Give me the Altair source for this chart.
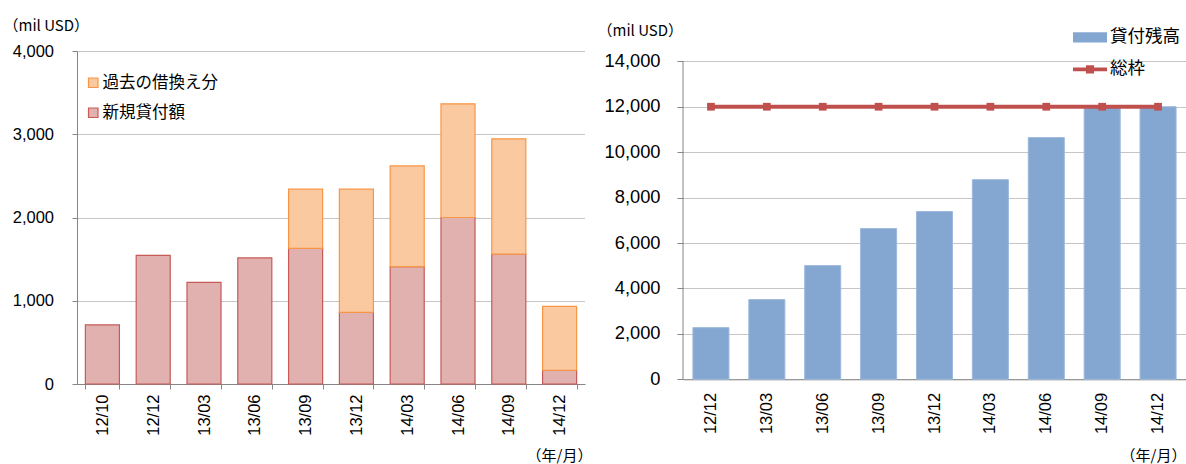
import altair as alt
import pandas as pd

# ---- left panel: quarterly lending (mil USD) ----
periods_left = ["12/10", "12/12", "13/03", "13/06", "13/09",
                "13/12", "14/03", "14/06", "14/09", "14/12"]
new_loans = [710, 1545, 1220, 1515, 1630, 860, 1410, 2000, 1560, 165]
refinanced = [0, 0, 0, 0, 710, 1480, 1210, 1365, 1385, 767]

# ---- right panel: outstanding balance vs. overall ceiling (mil USD) ----
periods_right = ["12/12", "13/03", "13/06", "13/09", "13/12",
                 "14/03", "14/06", "14/09", "14/12"]
outstanding = [2275, 3510, 5005, 6635, 7385, 8790, 10640, 12000, 12000]
ceiling = [12000, 12000, 12000, 12000, 12000, 12000, 12000, 12000, 12000]

S_NEW = "新規貸付額"
S_REFI = "過去の借換え分"
S_BAL = "貸付残高"
S_CAP = "総枠"

JP = "Noto Sans CJK JP"
NUM = "Liberation Sans"

PINK_FILL, PINK_LINE = "#E1B1B0", "#C65A57"
ORANGE_FILL, ORANGE_LINE = "#FAC9A0", "#F79646"
BLUE_FILL, BLUE_LINE = "#84A7D1", "#9DB9DC"
RED = "#C0504D"
AXIS_GREY = "#868686"

rows = []
for p, n, r in zip(periods_left, new_loans, refinanced):
    rows.append({"period": p, "series": S_NEW, "value": n, "rank": 0})
    rows.append({"period": p, "series": S_REFI, "value": r, "rank": 1})
left_df = pd.DataFrame(rows)

right_df = pd.DataFrame({
    "period": periods_right,
    "outstanding": outstanding,
    "ceiling": ceiling,
    "bal_series": [S_BAL] * len(periods_right),
    "cap_series": [S_CAP] * len(periods_right),
})

LW, LH = 508, 333          # left plot area
RW = 503                   # right plot width
R_AXIS_H = 318             # height spanned by the 0..14,000 axis
R_HEAD = 10.3              # free band above the right axis top
RH = R_AXIS_H + R_HEAD
R_TOP = 14000 * RH / R_AXIS_H

grid_axis = dict(grid=True, gridColor="#8A8A8A", gridDash=[1, 1], gridWidth=1)

left_legend = alt.Legend(
    title=None, orient="none", legendX=8, legendY=23.5,
    symbolType="square", symbolSize=90, symbolStrokeWidth=1.2,
    labelFont=JP, labelFontSize=16.5, labelColor="#000000",
    labelOffset=1, rowPadding=13,
)

left = (
    alt.Chart(left_df)
    .transform_filter("datum.value > 0")
    .mark_bar(strokeWidth=1.2)
    .encode(
        x=alt.X(
            "period:N", sort=periods_left,
            scale=alt.Scale(paddingInner=0.33, paddingOuter=0.165),
            axis=alt.Axis(
                title="（年/月）", titleFont=JP, titleFontSize=15,
                titleFontWeight="normal", titleColor="#000000",
                titleX=LW + 7, titleY=71, titleAlign="right",
                titleBaseline="middle", titleAngle=0,
                labelAngle=270, labelAlign="right", labelBaseline="middle",
                labelFont=NUM, labelFontSize=16.5, labelPadding=5,
                tickBand="extent", tickSize=5, grid=False,
            ),
        ),
        y=alt.Y(
            "value:Q", stack="zero",
            scale=alt.Scale(domain=[0, 4000], nice=False),
            axis=alt.Axis(
                values=[0, 1000, 2000, 3000, 4000], format=",d",
                title="（mil USD）", titleFont=JP, titleFontSize=15,
                titleFontWeight="normal", titleColor="#000000",
                titleAngle=0, titleAlign="left", titleBaseline="middle",
                titleX=-74, titleY=-26,
                labelFont=NUM, labelFontSize=16.5, labelPadding=18.5,
                tickSize=5, **grid_axis,
            ),
        ),
        fill=alt.Fill(
            "series:N",
            scale=alt.Scale(domain=[S_REFI, S_NEW], range=[ORANGE_FILL, PINK_FILL]),
            legend=left_legend,
        ),
        stroke=alt.Stroke(
            "series:N",
            scale=alt.Scale(domain=[S_REFI, S_NEW], range=[ORANGE_LINE, PINK_LINE]),
            legend=left_legend,
        ),
        order=alt.Order("rank:Q", sort="ascending"),
    )
    .properties(width=LW, height=LH)
)

# right panel: shared encodings
x_right = alt.X(
    "period:N", sort=periods_right,
    scale=alt.Scale(paddingInner=0.355, paddingOuter=0.1775),
    axis=alt.Axis(
        title="（年/月）", titleFont=JP, titleFontSize=15,
        titleFontWeight="normal", titleColor="#000000",
        titleX=RW, titleY=76, titleAlign="right",
        titleBaseline="middle", titleAngle=0,
        labelAngle=270, labelAlign="right", labelBaseline="middle",
        labelFont=NUM, labelFontSize=16.5, labelPadding=13,
        ticks=False, tickSize=0, grid=False,
    ),
)
y_axis_right = alt.Axis(
    values=[0, 2000, 4000, 6000, 8000, 10000, 12000, 14000], format=",d",
    title="（mil USD）", titleFont=JP, titleFontSize=15,
    titleFontWeight="normal", titleColor="#000000",
    titleAngle=0, titleAlign="left", titleBaseline="middle",
    titleX=-86, titleY=-30.5 + R_HEAD,
    labelFont=NUM, labelFontSize=18.3, labelPadding=17,
    tickSize=6, domain=False, **grid_axis,
)
y_scale_right = alt.Scale(domain=[0, R_TOP], nice=False)

RECT_PATH = "M-1,-0.3L1,-0.3L1,0.3L-1,0.3Z"
LINE_MARK_PATH = ("M-1,-0.11L1,-0.11L1,0.11L-1,0.11Z"
                  "M-0.24,-0.24L0.24,-0.24L0.24,0.24L-0.24,0.24Z")

# vertical axis line from 0 up to 14,000
axis_line = alt.Chart(pd.DataFrame({"lo": [0], "hi": [14000]})).mark_rule(
    color=AXIS_GREY, strokeWidth=1
).encode(
    x=alt.value(0),
    y=alt.Y("lo:Q", scale=y_scale_right, axis=y_axis_right),
    y2="hi:Q",
)

bars = alt.Chart(right_df).mark_bar(stroke=BLUE_LINE, strokeWidth=1).encode(
    x=x_right,
    y=alt.Y("outstanding:Q", scale=y_scale_right, axis=y_axis_right),
    fill=alt.Fill(
        "bal_series:N",
        scale=alt.Scale(domain=[S_BAL], range=[BLUE_FILL]),
        legend=alt.Legend(
            title=None, orient="none", legendX=390, legendY=-30.7,
            symbolType=RECT_PATH, symbolSize=1156, symbolStrokeWidth=0,
            labelFont=JP, labelFontSize=17.5, labelColor="#000000",
            labelOffset=3,
        ),
    ),
)

cap_line = alt.Chart(right_df).mark_line(color=RED, strokeWidth=4).encode(
    x=x_right,
    y=alt.Y("ceiling:Q", scale=y_scale_right, axis=y_axis_right),
)

cap_points = alt.Chart(right_df).mark_point(
    shape="square", filled=True, size=60, opacity=1
).encode(
    x=x_right,
    y=alt.Y("ceiling:Q", scale=y_scale_right, axis=y_axis_right),
    color=alt.Color(
        "cap_series:N",
        scale=alt.Scale(domain=[S_CAP], range=[RED]),
        legend=alt.Legend(
            title=None, orient="none", legendX=390, legendY=1.3,
            symbolType=LINE_MARK_PATH, symbolSize=1156, symbolStrokeWidth=0,
            labelFont=JP, labelFontSize=17.5, labelColor="#000000",
            labelOffset=3,
        ),
    ),
)

right = (
    alt.layer(bars, axis_line, cap_line, cap_points)
    .properties(width=RW, height=RH)
)

chart = (
    alt.hconcat(left, right, spacing=5)
    .resolve_scale(fill="independent", stroke="independent", color="independent")
    .resolve_legend(fill="independent", stroke="independent", color="independent")
    .properties(padding={"left": 3, "top": 18, "right": 0, "bottom": 0})
    .configure(font=JP)
    .configure_view(stroke=None)
    .configure_axis(
        domainColor=AXIS_GREY, domainWidth=1,
        tickColor=AXIS_GREY, tickWidth=1,
        labelColor="#000000",
    )
)

chart.save("out.html", embed_options={"renderer": "svg", "actions": False})
